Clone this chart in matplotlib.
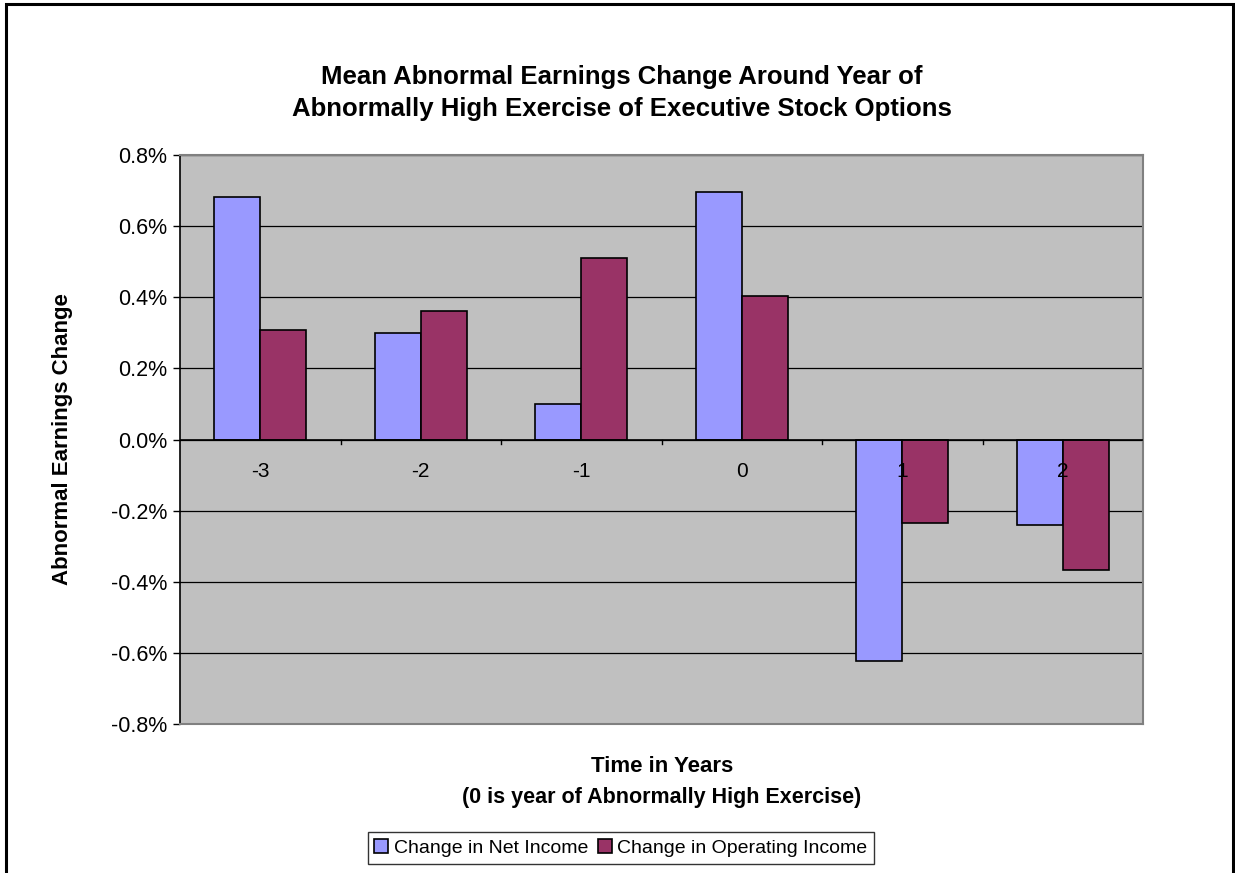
import numpy as np
import matplotlib.pyplot as plt
from matplotlib.patches import Rectangle

plt.rcParams['font.family'] = ['Liberation Sans', 'DejaVu Sans']

# data (percent)
years = ['-3', '-2', '-1', '0', '1', '2']
net_income = [0.682, 0.299, 0.100, 0.697, -0.622, -0.240]
operating_income = [0.308, 0.362, 0.510, 0.404, -0.235, -0.368]
series_names = ['Change in Net Income', 'Change in Operating Income']
yticks = [-0.8, -0.6, -0.4, -0.2, 0.0, 0.2, 0.4, 0.6, 0.8]

fig = plt.figure(figsize=(12.35, 8.73), dpi=100)
ax = fig.add_axes([180 / 1235, 1 - 724 / 873, 963 / 1235, 569 / 873])
ax.set_facecolor('#C0C0C0')

x = np.arange(len(years))
w = 0.287
ax.bar(x - w / 2, net_income, w, color='#9999FF', edgecolor='black', linewidth=1.2,
       label=series_names[0], zorder=3)
ax.bar(x + w / 2, operating_income, w, color='#993366', edgecolor='black', linewidth=1.2,
       label=series_names[1], zorder=3)

ax.set_xlim(-0.5, len(years) - 0.5)
ax.set_ylim(-0.8, 0.8)
ax.set_yticks(yticks)
ax.set_yticklabels(['%.1f%%' % v for v in yticks], fontsize=15.5)
ax.yaxis.grid(True, color='black', linewidth=0.9, zorder=1)
ax.tick_params(axis='y', length=5, width=1, direction='out', pad=4)

# category axis sits on the zero line
ax.set_xticks([])
ax.axhline(0, color='black', linewidth=1.2, zorder=4)
for b in np.arange(0.5, len(years) - 0.5):
    ax.plot([b, b], [0, -0.012], color='black', linewidth=1, zorder=4)
for i, lab in enumerate(years):
    ax.text(i, -0.09, lab, ha='center', va='center', fontsize=15, zorder=5)

for side in ['top', 'right', 'bottom']:
    ax.spines[side].set_color('#808080')
    ax.spines[side].set_linewidth(1.5)
ax.spines['left'].set_color('black')
ax.spines['left'].set_linewidth(1.2)

fig.text(622 / 1235, 1 - 77 / 873, 'Mean Abnormal Earnings Change Around Year of',
         ha='center', va='center', fontsize=18.5, fontweight='bold')
fig.text(622 / 1235, 1 - 109 / 873, 'Abnormally High Exercise of Executive Stock Options',
         ha='center', va='center', fontsize=18.5, fontweight='bold')
fig.text(63 / 1235, 1 - 439 / 873, 'Abnormal Earnings Change', rotation=90,
         ha='center', va='center', fontsize=16, fontweight='bold')
fig.text(662 / 1235, 1 - 767 / 873, 'Time in Years',
         ha='center', va='center', fontsize=16, fontweight='bold')
fig.text(662 / 1235, 1 - 797 / 873, '(0 is year of Abnormally High Exercise)',
         ha='center', va='center', fontsize=15.5, fontweight='bold')

leg = fig.legend(loc='center', bbox_to_anchor=(621 / 1235, 1 - 848 / 873), ncol=2,
                 fontsize=14, frameon=True, fancybox=False, handlelength=0.7,
                 handleheight=0.7, handletextpad=0.3, columnspacing=0.5,
                 borderpad=0.35, edgecolor='black')
leg.get_frame().set_linewidth(1)

# outer chart frame (cut off at the bottom)
fig.patches.append(Rectangle((6 / 1235, -0.05), 1227 / 1235, 1.05 - 4 / 873,
                             transform=fig.transFigure, fill=False,
                             edgecolor='black', linewidth=2.2))

fig.savefig('out.png', dpi=100)
